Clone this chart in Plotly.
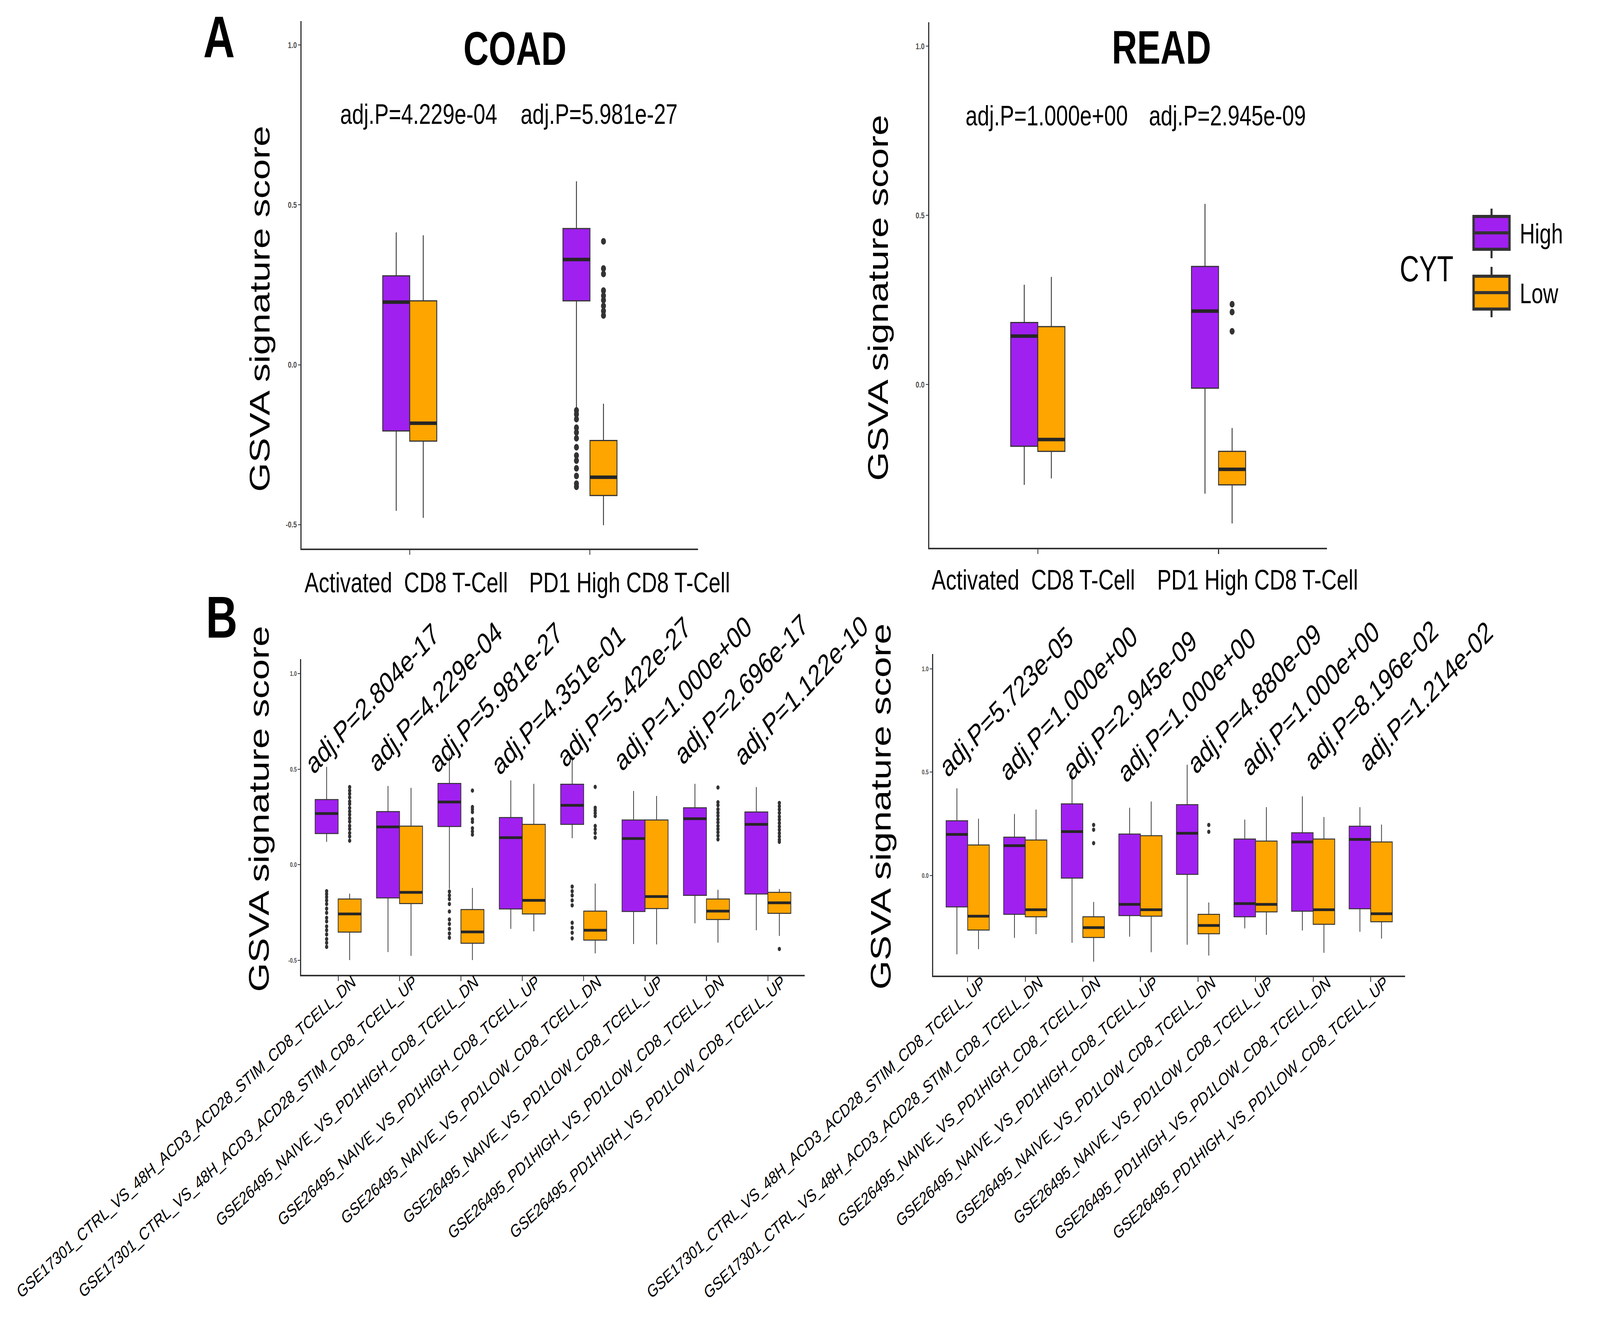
import plotly.graph_objects as go

FONT = "Liberation Sans, Arial, Helvetica, sans-serif"
W, H = 5480, 3440
PURPLE = "#A020F0"
ORANGE = "#FFA500"
EDGE = "#333333"

# ---------------- Panel A : COAD ----------------
cats_A = ["Activated  CD8 T-Cell", "PD1 High CD8 T-Cell"]
coadA_pvals = ["adj.P=4.229e-04", "adj.P=5.981e-27"]
coadA_high_q1 = [-0.207, 0.200]
coadA_high_med = [0.196, 0.329]
coadA_high_q3 = [0.278, 0.426]
coadA_high_lo = [-0.457, -0.137]
coadA_high_hi = [0.414, 0.574]
coadA_high_out = [[], [-0.143, -0.155, -0.170, -0.197, -0.212, -0.230, -0.258,
                       -0.284, -0.300, -0.324, -0.348, -0.372, -0.382]]
coadA_low_q1 = [-0.239, -0.409]
coadA_low_med = [-0.183, -0.352]
coadA_low_q3 = [0.200, -0.237]
coadA_low_lo = [-0.479, -0.502]
coadA_low_hi = [0.405, -0.122]
coadA_low_out = [[], [0.386, 0.301, 0.284, 0.232, 0.216, 0.202, 0.184, 0.168, 0.154]]

# ---------------- Panel A : READ ----------------
readA_pvals = ["adj.P=1.000e+00", "adj.P=2.945e-09"]
readA_high_q1 = [-0.183, -0.011]
readA_high_med = [0.143, 0.217]
readA_high_q3 = [0.183, 0.349]
readA_high_lo = [-0.297, -0.323]
readA_high_hi = [0.295, 0.534]
readA_high_out = [[], []]
readA_low_q1 = [-0.198, -0.297]
readA_low_med = [-0.163, -0.251]
readA_low_q3 = [0.171, -0.198]
readA_low_lo = [-0.278, -0.411]
readA_low_hi = [0.318, -0.129]
readA_low_out = [[], [0.237, 0.214, 0.157]]

# ---------------- Panel B : COAD ----------------
cats_B_coad = [
    "GSE17301_CTRL_VS_48H_ACD3_ACD28_STIM_CD8_TCELL_DN",
    "GSE17301_CTRL_VS_48H_ACD3_ACD28_STIM_CD8_TCELL_UP",
    "GSE26495_NAIVE_VS_PD1HIGH_CD8_TCELL_DN",
    "GSE26495_NAIVE_VS_PD1HIGH_CD8_TCELL_UP",
    "GSE26495_NAIVE_VS_PD1LOW_CD8_TCELL_DN",
    "GSE26495_NAIVE_VS_PD1LOW_CD8_TCELL_UP",
    "GSE26495_PD1HIGH_VS_PD1LOW_CD8_TCELL_DN",
    "GSE26495_PD1HIGH_VS_PD1LOW_CD8_TCELL_UP",
]
coadB_pvals = ["adj.P=2.804e-17", "adj.P=4.229e-04", "adj.P=5.981e-27", "adj.P=4.351e-01",
               "adj.P=5.422e-27", "adj.P=1.000e+00", "adj.P=2.696e-17", "adj.P=1.122e-10"]
coadB_high_q1 = [0.163, -0.173, 0.200, -0.231, 0.211, -0.244, -0.160, -0.153]
coadB_high_med = [0.268, 0.198, 0.328, 0.142, 0.311, 0.137, 0.241, 0.211]
coadB_high_q3 = [0.341, 0.278, 0.425, 0.247, 0.421, 0.234, 0.298, 0.276]
coadB_high_lo = [0.120, -0.456, -0.127, -0.335, 0.139, -0.414, -0.306, -0.342]
coadB_high_hi = [0.512, 0.412, 0.575, 0.441, 0.568, 0.386, 0.423, 0.406]
coadB_high_out = [
    [-0.138, -0.153, -0.169, -0.186, -0.205, -0.229, -0.251, -0.277, -0.296, -0.322,
     -0.342, -0.364, -0.388, -0.408, -0.429],
    [],
    [-0.140, -0.160, -0.179, -0.205, -0.244, -0.286, -0.309, -0.335, -0.359, -0.381],
    [],
    [-0.114, -0.138, -0.160, -0.186, -0.212, -0.303, -0.329, -0.355, -0.385],
    [], [], [],
]
coadB_low_q1 = [-0.352, -0.203, -0.410, -0.257, -0.394, -0.229, -0.286, -0.254]
coadB_low_med = [-0.257, -0.144, -0.351, -0.186, -0.342, -0.166, -0.242, -0.199]
coadB_low_q3 = [-0.179, 0.202, -0.234, 0.211, -0.242, 0.234, -0.179, -0.144]
coadB_low_lo = [-0.498, -0.476, -0.498, -0.348, -0.463, -0.416, -0.407, -0.372]
coadB_low_hi = [-0.151, 0.402, -0.121, 0.423, -0.098, 0.360, -0.131, -0.127]
coadB_low_out = [
    [0.406, 0.388, 0.371, 0.352, 0.331, 0.318, 0.297, 0.279, 0.262, 0.243, 0.226,
     0.204, 0.187, 0.166, 0.148, 0.126],
    [],
    [0.388, 0.302, 0.290, 0.276, 0.238, 0.224, 0.191, 0.174, 0.158],
    [],
    [0.407, 0.298, 0.284, 0.270, 0.255, 0.203, 0.185, 0.166, 0.142],
    [],
    [0.404, 0.327, 0.311, 0.290, 0.272, 0.256, 0.238, 0.221, 0.203, 0.187, 0.170,
     0.152, 0.133],
    [0.323, 0.306, 0.289, 0.271, 0.252, 0.236, 0.218, 0.200, 0.183, 0.165, 0.148,
     0.131, 0.120, -0.440],
]

# ---------------- Panel B : READ ----------------
cats_B_read = [
    "GSE17301_CTRL_VS_48H_ACD3_ACD28_STIM_CD8_TCELL_UP",
    "GSE17301_CTRL_VS_48H_ACD3_ACD28_STIM_CD8_TCELL_DN",
    "GSE26495_NAIVE_VS_PD1HIGH_CD8_TCELL_DN",
    "GSE26495_NAIVE_VS_PD1HIGH_CD8_TCELL_UP",
    "GSE26495_NAIVE_VS_PD1LOW_CD8_TCELL_DN",
    "GSE26495_NAIVE_VS_PD1LOW_CD8_TCELL_UP",
    "GSE26495_PD1HIGH_VS_PD1LOW_CD8_TCELL_DN",
    "GSE26495_PD1HIGH_VS_PD1LOW_CD8_TCELL_UP",
]
readB_pvals = ["adj.P=5.723e-05", "adj.P=1.000e+00", "adj.P=2.945e-09", "adj.P=1.000e+00",
               "adj.P=4.880e-09", "adj.P=1.000e+00", "adj.P=8.196e-02", "adj.P=1.214e-02"]
readB_high_q1 = [-0.151, -0.187, -0.012, -0.193, 0.006, -0.199, -0.172, -0.160]
readB_high_med = [0.199, 0.145, 0.213, -0.139, 0.205, -0.135, 0.163, 0.175]
readB_high_q3 = [0.265, 0.186, 0.347, 0.201, 0.343, 0.177, 0.207, 0.239]
readB_high_lo = [-0.380, -0.301, -0.325, -0.295, -0.334, -0.255, -0.265, -0.271]
readB_high_hi = [0.422, 0.298, 0.498, 0.328, 0.536, 0.271, 0.383, 0.331]
readB_high_out = [[], [], [], [], [], [], [], []]
readB_low_q1 = [-0.263, -0.199, -0.299, -0.196, -0.281, -0.175, -0.235, -0.223]
readB_low_med = [-0.196, -0.165, -0.251, -0.165, -0.241, -0.139, -0.165, -0.184]
readB_low_q3 = [0.148, 0.172, -0.199, 0.193, -0.187, 0.167, 0.177, 0.163]
readB_low_lo = [-0.355, -0.283, -0.416, -0.370, -0.386, -0.286, -0.373, -0.304]
readB_low_hi = [0.275, 0.319, -0.127, 0.358, -0.130, 0.331, 0.283, 0.247]
readB_low_out = [[], [], [0.245, 0.222, 0.157], [], [0.245, 0.212], [], [], []]

groups = ["High", "Low"]
group_colors = [PURPLE, ORANGE]
y_ticks = [-0.5, 0.0, 0.5, 1.0]

# layout: where each p-value label sits (offset from its category slot, y in data units)
coadB_label_dx = [0.555, 0.584, 0.569, 0.584, 0.656, 0.612, 0.569, 0.545]
coadB_label_y = [0.870, 0.880, 0.876, 0.864, 0.905, 0.897, 0.919, 0.912]
readB_label_dx = [0.674, 0.750, 0.821, 0.805, 0.983, 0.952, 1.013, 0.962]
readB_label_y = [0.841, 0.834, 0.824, 0.826, 0.856, 0.856, 0.873, 0.868]


def px(x):
    return x / W


def py(y):
    return 1 - y / H


fig = go.Figure()

panels = [
    dict(xa="x", ya="y", xdom=(1033, 2391), ydom=(54, 1404), yr=[-0.575, 1.075],
         cats=cats_A, pvals=coadA_pvals, dodge=0.30, lw=3, medw=9, ms=17,
         stats=[(coadA_high_q1, coadA_high_med, coadA_high_q3, coadA_high_lo, coadA_high_hi, coadA_high_out),
                (coadA_low_q1, coadA_low_med, coadA_low_q3, coadA_low_lo, coadA_low_hi, coadA_low_out)],
         pdx=[0.05, 0.05], pdy=[0.785, 0.785], pang=0, pfs=73, tfs=73, tang=0, ytfs=22,
         lab_shift=[-0.02, 0.22], lab_y=1490),
    dict(xa="x2", ya="y2", xdom=(3183, 4545), ydom=(57, 1402), yr=[-0.483, 1.071],
         cats=cats_A, pvals=readA_pvals, dodge=0.30, lw=3, medw=9, ms=17,
         stats=[(readA_high_q1, readA_high_med, readA_high_q3, readA_high_lo, readA_high_hi, readA_high_out),
                (readA_low_q1, readA_low_med, readA_low_q3, readA_low_lo, readA_low_hi, readA_low_out)],
         pdx=[0.05, 0.05], pdy=[0.796, 0.796], pang=0, pfs=73, tfs=73, tang=0, ytfs=22,
         lab_shift=[-0.025, 0.215], lab_y=1483),
    dict(xa="x3", ya="y3", xdom=(1032, 2756), ydom=(1687, 2495), yr=[-0.575, 1.075],
         cats=cats_B_coad, pvals=coadB_pvals, dodge=0.75, lw=2.5, medw=7, ms=11,
         stats=[(coadB_high_q1, coadB_high_med, coadB_high_q3, coadB_high_lo, coadB_high_hi, coadB_high_out),
                (coadB_low_q1, coadB_low_med, coadB_low_q3, coadB_low_lo, coadB_low_hi, coadB_low_out)],
         pdx=coadB_label_dx, pdy=coadB_label_y, pang=-39, pfs=76, tfs=46, tang=-35, ytfs=17,
         lab_shift=None, lab_y=None),
    dict(xa="x4", ya="y4", xdom=(3196, 4813), ydom=(1674, 2497), yr=[-0.483, 1.071],
         cats=cats_B_read, pvals=readB_pvals, dodge=0.75, lw=2.5, medw=7, ms=11,
         stats=[(readB_high_q1, readB_high_med, readB_high_q3, readB_high_lo, readB_high_hi, readB_high_out),
                (readB_low_q1, readB_low_med, readB_low_q3, readB_low_lo, readB_low_hi, readB_low_out)],
         pdx=readB_label_dx, pdy=readB_label_y, pang=-39, pfs=76, tfs=46, tang=-35, ytfs=17,
         lab_shift=None, lab_y=None),
]

annotations = []
layout_axes = {}

for p in panels:
    n = len(p["cats"])
    bw = p["dodge"] / 2
    xr = [-0.6, n - 0.4]
    for k, (gname, color, st) in enumerate(zip(groups, group_colors, p["stats"])):
        q1, med, q3, lo, hi, out = st
        # boxes without outliers get a null placeholder so every sample row is non-empty
        samples = [row if len(row) else [None] for row in out]
        off = (k - 0.5) * bw
        xs = [i + off for i in range(n)]
        fig.add_trace(go.Box(
            x=xs, y=samples, q1=q1, median=med, q3=q3, lowerfence=lo, upperfence=hi,
            width=bw, fillcolor=color, line=dict(color=EDGE, width=p["lw"]),
            whiskerwidth=0, boxpoints="outliers", pointpos=0, jitter=0,
            marker=dict(color=EDGE, size=p["ms"], line=dict(width=0)),
            name=gname, showlegend=False, hoverinfo="skip",
            xaxis=p["xa"], yaxis=p["ya"]))
        # thick median bar drawn on top (ggplot style)
        fig.add_trace(go.Box(
            x=xs, q1=med, median=med, q3=med, lowerfence=med, upperfence=med,
            width=bw, fillcolor="rgba(0,0,0,0)", line=dict(color="#262626", width=p["medw"]),
            whiskerwidth=0, boxpoints=False, name=gname + " median",
            showlegend=False, hoverinfo="skip",
            xaxis=p["xa"], yaxis=p["ya"]))

    xkey = "xaxis" + p["xa"][1:]
    ykey = "yaxis" + p["ya"][1:]
    xaxis = dict(
        domain=[px(p["xdom"][0]), px(p["xdom"][1])], anchor=p["ya"], automargin=False,
        range=xr, tickmode="array", tickvals=list(range(n)),
        ticktext=p["cats"], tickangle=p["tang"],
        showline=True, linecolor=EDGE, linewidth=4, ticks="outside", ticklen=12,
        tickwidth=3, tickcolor=EDGE, showgrid=False, zeroline=False,
        tickfont=dict(family=FONT, size=p["tfs"], color="black"))
    if p["lab_shift"] is None:
        xaxis.update(ticklabelshift=50, ticklabelstandoff=-42)
    else:
        # ggplot placed these two labels slightly off their ticks; draw them as
        # annotations anchored to the category positions
        xaxis.update(showticklabels=False)
        for i, (cat, sh) in enumerate(zip(p["cats"], p["lab_shift"])):
            annotations.append(dict(
                x=i + sh, y=py(p["lab_y"]), xref=p["xa"], yref="paper", text=cat,
                showarrow=False, xanchor="center", yanchor="middle",
                font=dict(family=FONT, size=p["tfs"], color="black")))
    layout_axes[xkey] = xaxis
    layout_axes[ykey] = dict(
        domain=[py(p["ydom"][1]), py(p["ydom"][0])], anchor=p["xa"], automargin=False,
        range=p["yr"], tickmode="array", tickvals=y_ticks,
        ticktext=["%.1f" % v for v in y_ticks],
        showline=True, linecolor=EDGE, linewidth=4, ticks="outside", ticklen=8,
        tickwidth=2, tickcolor=EDGE, showgrid=False, zeroline=False,
        tickfont=dict(family=FONT, size=p["ytfs"], color="#4D4D4D", weight="bold"))

    # p-value labels: x given relative to the category slot, converted to paper
    # fraction so labels beyond the last slot are still drawn
    d0, d1 = px(p["xdom"][0]), px(p["xdom"][1])
    for i, (txt, dx, yv) in enumerate(zip(p["pvals"], p["pdx"], p["pdy"])):
        xpaper = d0 + (i + dx - xr[0]) / (xr[1] - xr[0]) * (d1 - d0)
        annotations.append(dict(
            x=xpaper, y=yv, xref="paper", yref=p["ya"], text=txt,
            textangle=p["pang"], showarrow=False, xanchor="center", yanchor="middle",
            font=dict(family=FONT, size=p["pfs"], color="black")))

# y-axis titles
for (cx, cy) in [(890, 791), (3007, 763), (886, 2071), (3016, 2065)]:
    annotations.append(dict(
        x=px(cx), y=py(cy), xref="paper", yref="paper", text="GSVA signature score",
        textangle=-90, showarrow=False, xanchor="center", yanchor="middle",
        font=dict(family=FONT, size=96, color="black")))

# panel titles
for (cx, cy, t) in [(1763, 124, "COAD"), (3978, 121, "READ")]:
    annotations.append(dict(
        x=px(cx), y=py(cy), xref="paper", yref="paper", text="<b>%s</b>" % t,
        showarrow=False, xanchor="center", yanchor="middle",
        font=dict(family=FONT, size=120, color="black")))

# panel letters
for (cx, cy, t) in [(750, 94, "A"), (759, 1580, "B")]:
    annotations.append(dict(
        x=px(cx), y=py(cy), xref="paper", yref="paper", text="<b>%s</b>" % t,
        showarrow=False, xanchor="center", yanchor="middle",
        font=dict(family=FONT, size=150, color="black")))

# legend (ggplot style key glyphs)
annotations.append(dict(
    x=px(4886), y=py(688), xref="paper", yref="paper", text="CYT",
    showarrow=False, xanchor="center", yanchor="middle",
    font=dict(family=FONT, size=92, color="black")))
shapes = []
legend_rows = [(596, 554, 638, 534, 661), (749, 707, 791, 683, 812)]
for gname, color, (mid, b0, b1, w0, w1) in zip(groups, group_colors, legend_rows):
    x0, x1 = 5047, 5170
    xc = (x0 + x1) / 2
    shapes.append(dict(type="line", xref="paper", yref="paper", x0=px(xc), x1=px(xc),
                       y0=py(w0), y1=py(w1), line=dict(color=EDGE, width=7), layer="below"))
    shapes.append(dict(type="rect", xref="paper", yref="paper", x0=px(x0), x1=px(x1),
                       y0=py(b1), y1=py(b0), fillcolor=color, line=dict(color=EDGE, width=8)))
    shapes.append(dict(type="line", xref="paper", yref="paper", x0=px(x0), x1=px(x1),
                       y0=py(mid), y1=py(mid), line=dict(color=EDGE, width=8)))
    annotations.append(dict(
        x=px(5203), y=py(mid + 2), xref="paper", yref="paper", text=gname,
        showarrow=False, xanchor="left", yanchor="middle",
        font=dict(family=FONT, size=72, color="black")))

fig.update_layout(
    template="none",
    width=W, height=H, margin=dict(l=0, r=0, t=0, b=0, autoexpand=False),
    paper_bgcolor="white", plot_bgcolor="white", showlegend=False,
    boxmode="overlay", font=dict(family=FONT),
    annotations=annotations, shapes=shapes, **layout_axes)

# If the browser viewport is smaller than the requested 5480x3440 canvas,
# scale the rendered figure so the whole canvas fills the viewport.
FIT_JS = (
    "(function(){"
    "document.body.style.margin='0px';"
    "document.body.style.overflow='hidden';"
    "var gd=document.getElementById('{plot_id}');"
    "var sx=Math.min(window.innerWidth/%d,1), sy=Math.min(window.innerHeight/%d,1);"
    "if(gd && (sx<1 || sy<1)){gd.style.transformOrigin='0 0';"
    "gd.style.transform='scale('+sx+','+sy+')';}"
    "})();" % (W, H)
)
fig.write_html("out.html", config={"displayModeBar": False}, post_script=FIT_JS)
